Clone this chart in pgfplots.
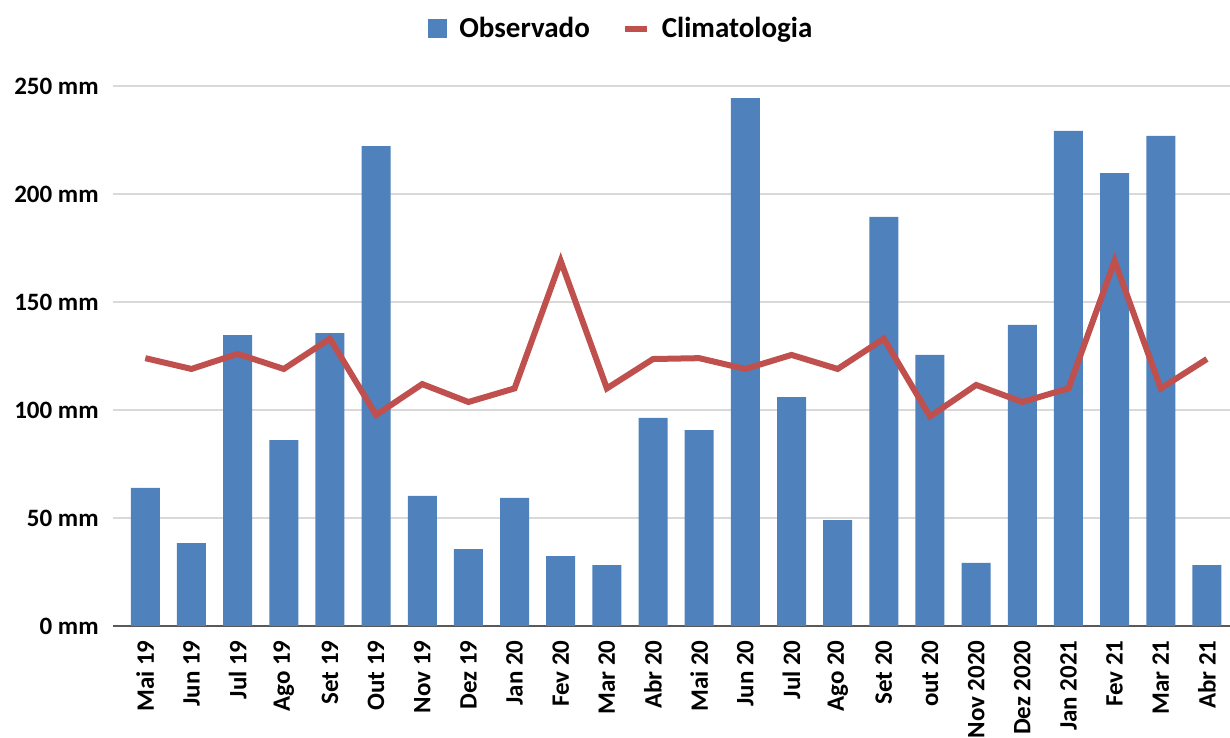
\documentclass[border=0pt]{standalone}
\usepackage{pgfplots}
\pgfplotsset{compat=1.18}
\usepackage{fontspec}
\setmainfont{Carlito}
\definecolor{barblue}{HTML}{4F81BD}
\definecolor{linered}{HTML}{C0504D}
\definecolor{gridgray}{HTML}{D9D9D9}
\definecolor{axisgray}{HTML}{595959}
\begin{document}
\begin{tikzpicture}
\useasboundingbox (0,0) rectangle (615pt,369pt);
\begin{axis}[
  at={(56.5pt,56pt)}, anchor=south west,
  scale only axis,
  width=558.5pt, height=270pt,
  xmin=-0.7, xmax=23.5,
  ymin=0, ymax=250,
  axis line style={draw=none},
  ytick={0,50,100,150,200,250},
  yticklabels={0 mm,50 mm,100 mm,150 mm,200 mm,250 mm},
  ymajorgrids,
  grid style={gridgray, line width=0.9pt},
  major tick length=0pt,
  xtick={0,...,23},
  xticklabels={Mai 19,Jun 19,Jul 19,Ago 19,Set 19,Out 19,Nov 19,Dez 19,Jan 20,Fev 20,Mar 20,Abr 20,Mai 20,Jun 20,Jul 20,Ago 20,Set 20,out 20,Nov 2020,Dez 2020,Jan 2021,Fev 21,Mar 21,Abr 21},
  x tick label style={rotate=90, anchor=east, font=\bfseries\fontsize{12.5}{14}\selectfont, inner sep=0pt},
  xticklabel shift=7pt,
  y tick label style={font=\bfseries\fontsize{12.5}{14}\selectfont, inner sep=0pt},
  yticklabel shift=7pt,
  legend style={at={(0.456,1.106)}, anchor=center, draw=none, fill=none,
    legend columns=2, font=\bfseries\fontsize{14.5}{16}\selectfont,
    /tikz/every odd column/.append style={column sep=4pt},
    /tikz/every even column/.append style={column sep=14pt}},
  legend cell align=left,
  clip=false,
]
\pgfplotsextra{\draw[axisgray, line width=0.9pt] (axis cs:-0.7,0) -- (axis cs:23.5,0);}
\addplot[ybar, bar width=14.5pt, fill=barblue, draw=none,
  legend image code/.code={\fill[barblue] (0pt,-4.75pt) rectangle (9.5pt,4.75pt);}]
  coordinates {
  (0,63.9) (1,38.4) (2,134.7) (3,86.1) (4,135.6) (5,222.2) (6,60.2) (7,35.6)
  (8,59.3) (9,32.4) (10,28.2) (11,96.3) (12,90.7) (13,244.4) (14,106) (15,49)
  (16,189.4) (17,125.5) (18,29.2) (19,139.4) (20,229.2) (21,209.7) (22,226.9) (23,28.2)
  };
\addlegendentry{Observado}
\addplot[linered, line width=3pt, mark=none,
  legend image code/.code={\draw[linered, line width=3pt] (0pt,0pt) -- (11pt,0pt);}]
  coordinates {
  (0,124) (1,119) (2,126) (3,119) (4,133) (5,97.7) (6,112) (7,103.7)
  (8,110) (9,169) (10,110) (11,123.6) (12,124) (13,119) (14,125.5) (15,119)
  (16,133) (17,97) (18,111.6) (19,103.7) (20,110) (21,169) (22,110) (23,123.6)
  };
\addlegendentry{Climatologia}
\end{axis}
\end{tikzpicture}
\end{document}
